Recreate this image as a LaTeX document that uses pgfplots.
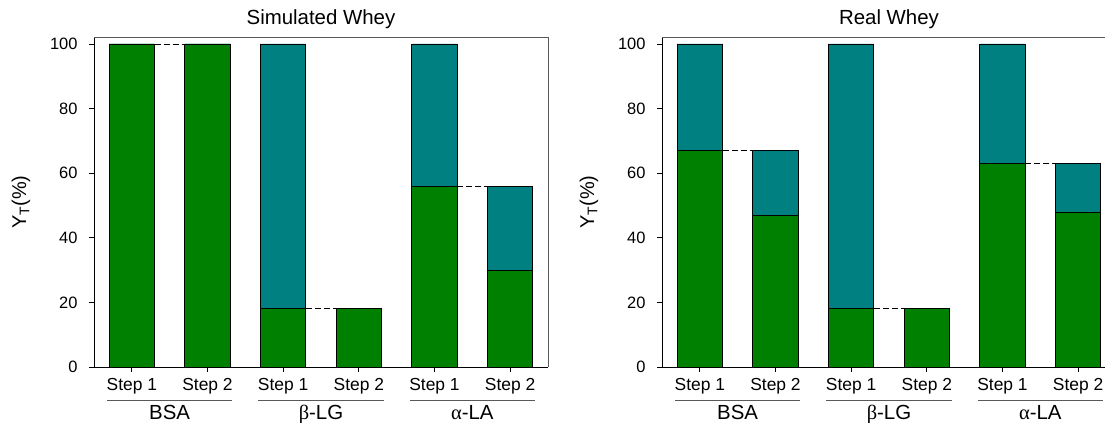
\documentclass[border=0pt]{standalone}
\usepackage{pgfplots}
\pgfplotsset{compat=1.18}
\usepackage{fontspec}
\setmainfont{Liberation Sans}
\newfontfamily\grk{Liberation Serif}
\definecolor{bargreen}{RGB}{0,128,0}
\definecolor{barteal}{RGB}{0,128,128}
\tikzset{
  glab/.style={font=\fontsize{20.5}{24}\selectfont, anchor=base, inner sep=0pt},
  gline/.style={gray!70!black, line width=0.75bp},
}
\pgfplotsset{
  wheystyle/.style={
    scale only axis, width=454bp, height=329.5bp,
    xmin=-0.5, xmax=5.5, ymin=0, ymax=102,
    axis x line*=bottom, axis y line*=left,
    axis line style={-, black, line width=0.75bp},
    xtick={0,...,5}, xticklabels={Step 1,Step 2,Step 1,Step 2,Step 1,Step 2},
    ytick={0,20,...,100},
    tick align=outside, major tick length=5bp,
    tick style={black, line width=0.75bp},
    /pgf/number format/assume math mode=true,
    yticklabel style={font=\fontsize{16.5}{20}\selectfont, xshift=-8bp},
    xticklabel style={font=\fontsize{17.5}{20}\selectfont, anchor=base, yshift=-18.5bp},
    clip=false,
    title style={font=\fontsize{20.5}{24}\selectfont, at={(0.5,1)}, anchor=base, yshift=7bp},
    every axis y label/.style={at={(axis description cs:0,0.5)}, xshift=-73bp, rotate=90, anchor=center, font=\fontsize{20}{24}\selectfont},
    ylabel={Y\textsubscript{T}(\%)},
  },
  tbar/.style={ybar, bar width=0.6, bar shift=0pt, fill=barteal, draw=black, line width=0.75bp},
  gbar/.style={ybar, bar width=0.6, bar shift=0pt, fill=bargreen, draw=black, line width=0.75bp},
  dline/.style={black, dash pattern=on 6bp off 3bp, line width=0.75bp},
}
\newcommand{\groups}{%
  \draw[gline] (rel axis cs:0,1) -- (rel axis cs:1,1) -- (rel axis cs:1,0);
  \draw[gline] ([yshift=-33bp]axis cs:-0.33,0) -- ([yshift=-33bp]axis cs:1.33,0);
  \draw[gline] ([yshift=-33bp]axis cs:1.67,0) -- ([yshift=-33bp]axis cs:3.33,0);
  \draw[gline] ([yshift=-33bp]axis cs:3.67,0) -- ([yshift=-33bp]axis cs:5.33,0);
  \node[glab] at ([yshift=-52bp]axis cs:0.5,0) {BSA};
  \node[glab] at ([yshift=-52bp]axis cs:2.5,0) {{\grk β}-LG};
  \node[glab] at ([yshift=-52bp]axis cs:4.5,0) {{\grk α}-LA};
}
\begin{document}
\begin{tikzpicture}
\begin{axis}[wheystyle, at={(0,0)}, anchor=south west, title={Simulated Whey}]
\addplot[tbar] coordinates {(0,100) (1,100) (2,100) (3,18) (4,100) (5,56)};
\addplot[gbar] coordinates {(0,100) (1,100) (2,18) (3,18) (4,56) (5,30)};
\addplot[dline] coordinates {(0.3,100) (0.7,100)};
\addplot[dline] coordinates {(2.3,18) (2.7,18)};
\addplot[dline] coordinates {(4.3,56) (4.7,56)};
\groups
\end{axis}
\begin{axis}[wheystyle, at={(568bp,0)}, anchor=south west, title={Real Whey}]
\addplot[tbar] coordinates {(0,100) (1,67) (2,100) (3,18) (4,100) (5,63)};
\addplot[gbar] coordinates {(0,67) (1,47) (2,18) (3,18) (4,63) (5,48)};
\addplot[dline] coordinates {(0.3,67) (0.7,67)};
\addplot[dline] coordinates {(2.3,18) (2.7,18)};
\addplot[dline] coordinates {(4.3,63) (4.7,63)};
\groups
\end{axis}
\pgfresetboundingbox
\useasboundingbox (-94bp,-56bp) rectangle (1011bp,367bp);
\end{tikzpicture}
\end{document}
